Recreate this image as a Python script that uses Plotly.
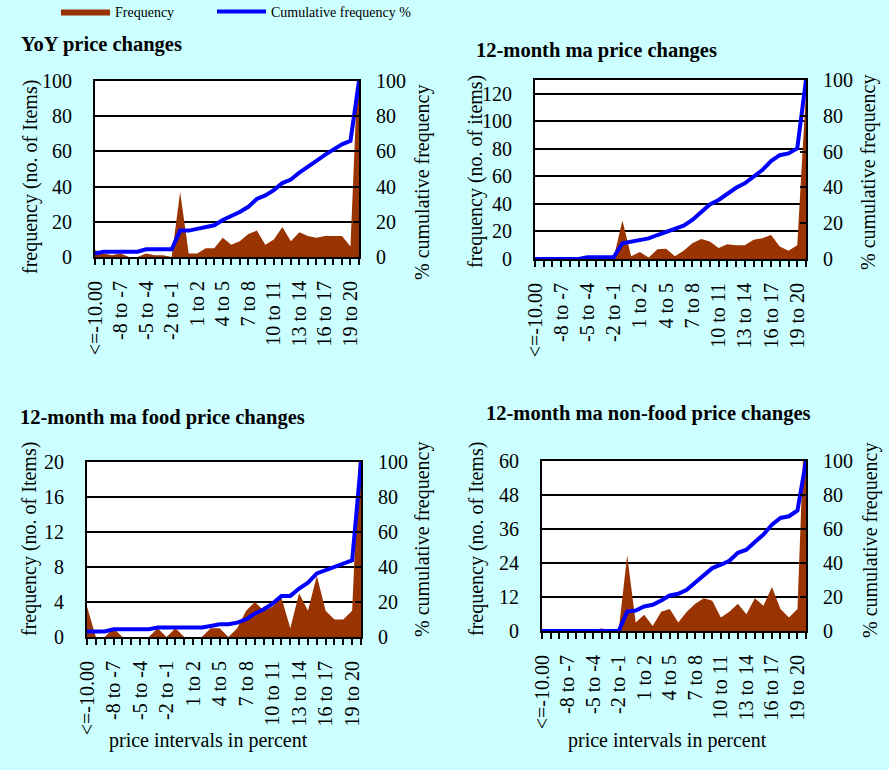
import plotly.graph_objects as go

W, H = 889, 770

categories = ["<=-10.00", "-10 to -9", "-9 to -8", "-8 to -7", "-7 to -6", "-6 to -5",
              "-5 to -4", "-4 to -3", "-3 to -2", "-2 to -1", "-1 to 0", "0 to 1",
              "1 to 2", "2 to 3", "3 to 4", "4 to 5", "5 to 6", "6 to 7", "7 to 8",
              "8 to 9", "9 to 10", "10 to 11", "11 to 12", "12 to 13", "13 to 14",
              "14 to 15", "15 to 16", "16 to 17", "17 to 18", "18 to 19", "19 to 20", "> 20"]
tick_text = ["&lt;=-10.00" if i == 0 else (c if i % 3 == 0 else "") for i, c in enumerate(categories)]

titles = ["YoY price changes", "12-month ma price changes",
          "12-month ma food price changes", "12-month ma non-food price changes"]

freq_yoy = [4, 2, 1, 2, 0, 0, 2, 1, 1, 0, 37, 2, 2, 5, 5, 11, 7, 9, 13, 15, 7, 10, 17, 9, 14,
            12, 11, 12, 12, 12, 6, 124]
cum_yoy = [2, 3, 3, 3, 3, 3, 4.4, 4.4, 4.4, 4.4, 15, 15, 16, 17, 18, 21, 23, 25.6, 28.5, 33,
           35, 38, 42, 44, 48, 51.6, 54.6, 58, 60.7, 64, 66, 100]

freq_ma = [0, 0, 0, 0, 0, 0, 1, 1, 1, 1, 28, 2, 5, 1, 7, 7.5, 2, 6, 11.5, 14.6, 12.7, 8, 10.7,
           10, 10, 14, 15, 17.5, 9, 6, 10, 122]
cum_ma = [0, 0, 0, 0, 0, 0, 1, 1, 1, 1, 8.8, 9.7, 10.6, 11.5, 13.4, 15.3, 16.8, 18.6, 21.8,
          26.4, 30.5, 33, 36.7, 39.8, 42.3, 46, 49.7, 54.7, 58, 59, 61.8, 100]

freq_food = [3.5, 0, 0, 1, 0, 0, 0, 0, 1, 0, 1, 0, 0, 0, 1, 1, 0, 1, 3, 4, 3, 3.5, 4.5, 1, 5,
             3, 7, 3, 2, 2, 3, 26]
cum_food = [3.2, 3.2, 3.2, 4.4, 4.4, 4.4, 4.4, 4.4, 5.4, 5.4, 5.4, 5.4, 5.4, 5.4, 6.3, 7.3,
            7.3, 8.2, 10.1, 13.4, 15.9, 19.1, 23.5, 23.5, 27.7, 31, 36.3, 38.2, 39.6, 41.5,
            43.8, 100]

freq_nonfood = [0, 0, 0, 0, 0, 0, 0, 1, 0, 0, 26.7, 3, 5.7, 1.8, 6.8, 7.8, 3, 6.8, 9.6, 11.6,
                10.7, 4.8, 6.8, 9.6, 5.9, 11.6, 8.9, 15.5, 7.8, 4.8, 7.8, 90]
cum_nonfood = [0, 0, 0, 0, 0, 0, 0, 0, 0, 0, 11.4, 12, 14.4, 15.4, 17.9, 20.9, 21.9, 24.2,
               28.5, 32.7, 37, 39, 41.3, 46, 47.8, 52.4, 56.7, 62.6, 66.5, 67.5, 70.9, 100]

freqs = [freq_yoy, freq_ma, freq_food, freq_nonfood]
cums = [cum_yoy, cum_ma, cum_food, cum_nonfood]
left_ranges = [(0, 100, 20), (0, 130, 20), (0, 20, 4), (0, 60, 12)]
left_titles = ["frequency (no. of Items)", "frequency (no. of items)",
               "frequency (no. of Items)", "frequency (no. of Items)"]
right_title = "% cumulative frequency"
x_title = "price intervals in percent"

# plot areas in pixels: x0, x1, ytop, ybottom
boxes = [(95, 359, 81, 257), (535, 806, 80, 259), (87, 361, 462, 637), (542, 806, 461, 631)]
title_pos = [(19, 45, "left"), (596, 50, "center"), (18, 418, "left"), (648, 413, "center")]
left_title_pos = [(30, 177), (476, 172), (29, 539), (476, 539)]
right_title_pos = [(422, 183), (868, 173), (422, 540), (870, 541)]
x_title_pos = [None, None, (208, 740), (667, 740)]

FONT = "Liberation Serif"
BROWN = "#993300"
BLUE = "#0000FF"


def px(x):
    return x / W


def py(y):
    return 1 - y / H


legend_common = dict(orientation="h", y=1 + 4 / H, xanchor="left", yanchor="top",
                     bgcolor="rgba(0,0,0,0)", font=dict(size=14, family=FONT),
                     itemwidth=49)

fig = go.Figure()
layout = dict(
    width=W, height=H, margin=dict(l=0, r=0, t=0, b=0, autoexpand=False),
    paper_bgcolor="#CCFFFF", plot_bgcolor="white",
    font=dict(family=FONT, size=20, color="black"),
    showlegend=True,
    legend=dict(x=px(56), **legend_common),
    legend2=dict(x=px(212), **legend_common),
    annotations=[],
)


def text_ann(text, x, y, angle=0, size=20, anchor="center"):
    return dict(text=text, x=px(x), y=py(y), xref="paper", yref="paper",
                xanchor=anchor, yanchor="middle", showarrow=False, textangle=angle,
                font=dict(size=size, family=FONT, color="black"))


for k in range(4):
    x0, x1, yt, yb = boxes[k]
    xa = "x" if k == 0 else f"x{k + 1}"
    ya = f"y{2 * k + 1}" if k > 0 else "y"
    ya2 = f"y{2 * k + 2}"
    xkey = "xaxis" if k == 0 else f"xaxis{k + 1}"
    ykey = "yaxis" if k == 0 else f"yaxis{2 * k + 1}"
    y2key = f"yaxis{2 * k + 2}"

    fig.add_trace(go.Scatter(
        x=categories, y=freqs[k], mode="lines", fill="tozeroy",
        line=dict(width=0, color=BROWN), fillcolor=BROWN,
        name="Frequency", showlegend=(k == 0), legend="legend",
        xaxis=xa, yaxis=ya))
    fig.add_trace(go.Scatter(
        x=categories, y=cums[k], mode="lines",
        line=dict(width=4, color=BLUE),
        name="Cumulative frequency %", showlegend=(k == 0), legend="legend2",
        xaxis=xa, yaxis=ya2))

    lo, hi, dt = left_ranges[k]
    layout[xkey] = dict(
        domain=[px(x0), px(x1)], anchor=ya, type="category",
        range=[0, len(categories) - 1],
        tickmode="array", tickvals=categories, ticktext=tick_text,
        tickangle=-90, ticks="outside", ticklen=6, tickwidth=1.5, tickcolor="black",
        ticklabelstandoff=8,
        tickfont=dict(size=20, family=FONT),
        showline=True, linecolor="black", linewidth=2, mirror=True,
        showgrid=False, zeroline=False, automargin=False,
    )
    layout[ykey] = dict(
        domain=[py(yb), py(yt)], anchor=xa,
        range=[lo, hi], tick0=0, dtick=dt, ticks="",
        ticklabelstandoff=17, automargin=False,
        showline=True, linecolor="black", linewidth=2, mirror=True,
        showgrid=True, gridcolor="black", gridwidth=1.5, zeroline=False,
        tickfont=dict(size=20, family=FONT),
    )
    layout[y2key] = dict(
        overlaying=ya, anchor=xa, side="right",
        range=[0, 100], tick0=0, dtick=20,
        ticks="inside", ticklen=6, tickwidth=1.5, tickcolor="black",
        ticklabelstandoff=16, automargin=False,
        showgrid=False, zeroline=False, showline=False,
        tickfont=dict(size=20, family=FONT),
    )

    tx, ty, align = title_pos[k]
    layout["annotations"].append(text_ann(f"<b>{titles[k]}</b>", tx, ty, size=20.5, anchor=align))
    lx, ly = left_title_pos[k]
    layout["annotations"].append(text_ann(left_titles[k], lx, ly, angle=-90))
    rx, ry = right_title_pos[k]
    layout["annotations"].append(text_ann(right_title, rx, ry, angle=-90))
    if x_title_pos[k] is not None:
        xx, xy = x_title_pos[k]
        layout["annotations"].append(text_ann(x_title, xx, xy))

fig.update_layout(**layout)
fig.write_html("out.html", config={"displayModeBar": False},
               post_script="document.body.style.margin='0px';")
